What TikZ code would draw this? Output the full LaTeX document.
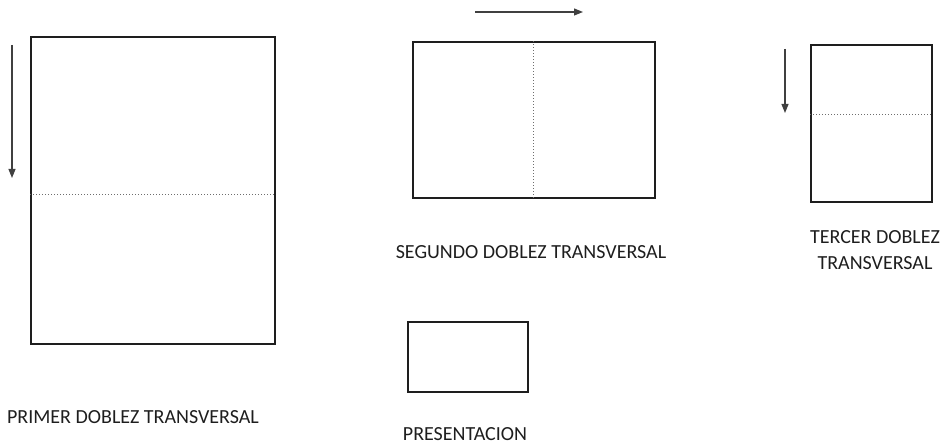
\documentclass[tikz,border=0pt]{standalone}
\usepackage{fontspec}
\setmainfont{Carlito}
\usetikzlibrary{arrows.meta}
\definecolor{ink}{HTML}{1E1E1E}
\definecolor{fold}{HTML}{6E6E6E}
\begin{document}
\begin{tikzpicture}[x=1pt,y=1pt,
  sheet/.style={draw=ink,line width=1.9pt,inner sep=0pt},
  foldline/.style={draw=fold,line width=1pt,dotted},
  dirarrow/.style={draw=ink!85,line width=1.1pt,-{Triangle[length=9pt,width=7pt]}},
  lbl/.style={text=ink,font=\fontsize{20}{26}\selectfont,align=center,inner sep=0pt}]
\useasboundingbox (0,0) rectangle (942,444);
% sheet 1
\node[sheet,minimum width=244pt,minimum height=307pt] (s1) at (153,253.5) {};
\draw[foldline] (s1.west |- 0,249) -- (s1.east |- 0,249);
\coordinate (a1s) at (12,399); \coordinate (a1e) at (12,266);
\draw[dirarrow] (a1s) -- (a1e);
\node[lbl] (t1) at (133,27) {PRIMER DOBLEZ TRANSVERSAL};
% sheet 2
\node[sheet,minimum width=242pt,minimum height=156pt] (s2) at (534,324) {};
\draw[foldline] (533,0 |- s2.north) -- (533,0 |- s2.south);
\coordinate (a2s) at (475,432); \coordinate (a2e) at (583,432);
\draw[dirarrow] (a2s) -- (a2e);
\node[lbl] (t2) at (531,192) {SEGUNDO DOBLEZ TRANSVERSAL};
% sheet 3
\node[sheet,minimum width=121pt,minimum height=157pt] (s3) at (871.5,320.5) {};
\draw[foldline] (s3.west |- 0,329) -- (s3.east |- 0,329);
\coordinate (a3s) at (785,395); \coordinate (a3e) at (785,331);
\draw[dirarrow] (a3s) -- (a3e);
\node[lbl] (t3) at (875,194) {TERCER DOBLEZ\\TRANSVERSAL};
% presentation
\node[sheet,minimum width=120pt,minimum height=70pt] (s4) at (468,87) {};
\node[lbl] (t4) at (465,10) {PRESENTACION};
\end{tikzpicture}
\end{document}
